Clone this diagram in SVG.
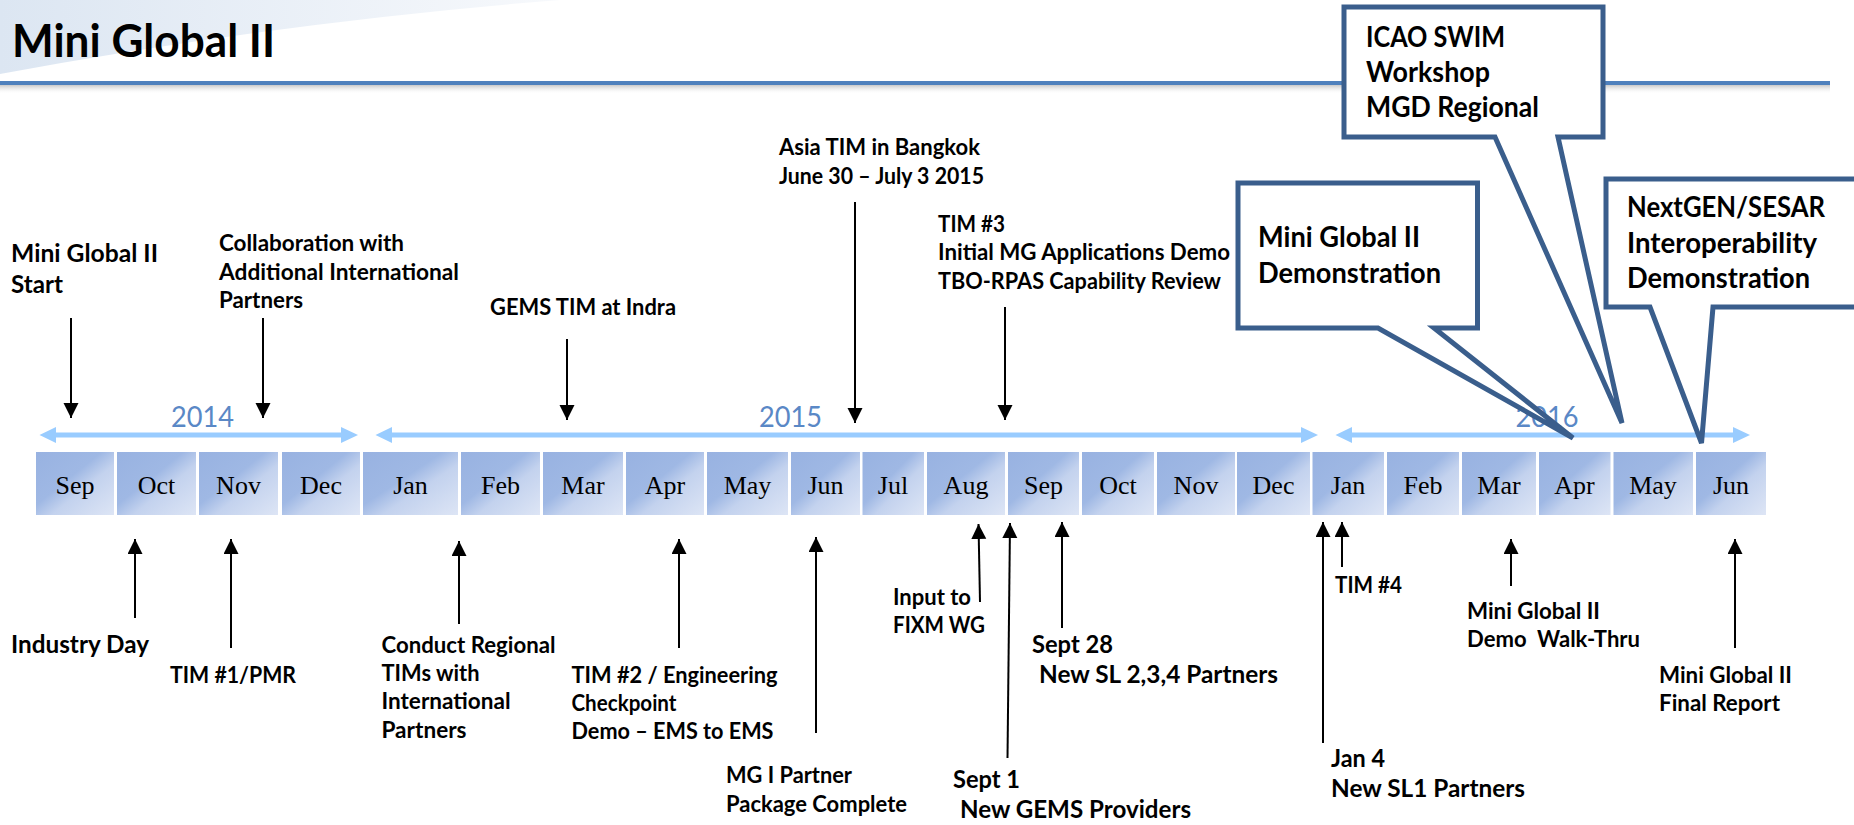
<svg xmlns="http://www.w3.org/2000/svg" width="1854" height="825" viewBox="0 0 1854 825">
<defs>
<style>
.lbl{font-family:Lato,"Liberation Sans",sans-serif;font-weight:bold;fill:#000;}
.s24{font-size:23px;}
.s26{font-size:25px;}
.s29{font-size:28px;}
.mon{font-family:"Liberation Serif","DejaVu Serif",serif;font-size:26px;fill:#000;text-anchor:middle;}
.yr{font-family:Lato,"Liberation Sans",sans-serif;font-size:29px;fill:#5A88C6;text-anchor:middle;}
.cell{fill:url(#cellGrad);}
.conn{stroke:#000;stroke-width:2;fill:none;marker-end:url(#ah);}
.yline{stroke:#99CCFF;stroke-width:5;fill:none;}
.yhead{fill:#99CCFF;}
.callout{fill:#fff;stroke:#3A5E8C;stroke-width:5;stroke-linejoin:miter;stroke-miterlimit:4;}
</style>
<linearGradient id="cellGrad" x1="0" y1="0" x2="1" y2="1">
<stop offset="0" stop-color="#98B2E1"/>
<stop offset="0.42" stop-color="#9FB8E4"/>
<stop offset="0.6" stop-color="#C3D2EE"/>
<stop offset="1" stop-color="#DDE5F5"/>
</linearGradient>
<linearGradient id="swoosh" x1="0" y1="0" x2="1" y2="0">
<stop offset="0" stop-color="#DCE6F2"/>
<stop offset="1" stop-color="#F7F9FC"/>
</linearGradient>
<linearGradient id="shadow" x1="0" y1="0" x2="0" y2="1">
<stop offset="0" stop-color="#BBBBBB" stop-opacity="0.8"/>
<stop offset="1" stop-color="#FFFFFF" stop-opacity="0"/>
</linearGradient>
<marker id="ah" markerUnits="userSpaceOnUse" markerWidth="16" markerHeight="16" refX="15" refY="7.5" orient="auto">
<path d="M0,0 L15,7.5 L0,15 Z" fill="#000"/>
</marker>
</defs>

<rect width="1854" height="825" fill="#fff"/>

<g id="header">
<path d="M0,0 L560,0 Q280,22 0,74 Z" fill="url(#swoosh)"/>
<rect x="0" y="85" width="1830" height="9" fill="url(#shadow)"/>
<line x1="0" y1="83" x2="1830" y2="83" stroke="#4F81BD" stroke-width="4"/>
<text class="lbl" x="12" y="57" font-size="45" textLength="263" lengthAdjust="spacingAndGlyphs">Mini Global II</text>
</g>

<g id="years">
<line class="yline" x1="52" y1="435" x2="345" y2="435"/>
<polygon class="yhead" points="39.5,435 56,427 56,443"/>
<polygon class="yhead" points="358,435 341,427 341,443"/>
<line class="yline" x1="388" y1="435" x2="1305" y2="435"/>
<polygon class="yhead" points="375.5,435 392,427 392,443"/>
<polygon class="yhead" points="1318,435 1301,427 1301,443"/>
<line class="yline" x1="1348" y1="435" x2="1737" y2="435"/>
<polygon class="yhead" points="1335.5,435 1352,427 1352,443"/>
<polygon class="yhead" points="1750,435 1733,427 1733,443"/>
<text class="yr" x="202.5" y="427" textLength="63" lengthAdjust="spacingAndGlyphs">2014</text>
<text class="yr" x="790.5" y="427" textLength="63" lengthAdjust="spacingAndGlyphs">2015</text>
<text class="yr" x="1547" y="427" textLength="63" lengthAdjust="spacingAndGlyphs">2016</text>
</g>

<g id="months">
<g id="m-2014-sep"><rect class="cell" x="36" y="452" width="78" height="63"/><text class="mon" x="75" y="494">Sep</text></g>
<g id="m-2014-oct"><rect class="cell" x="117" y="452" width="79" height="63"/><text class="mon" x="156.5" y="494">Oct</text></g>
<g id="m-2014-nov"><rect class="cell" x="199" y="452" width="79" height="63"/><text class="mon" x="238.5" y="494">Nov</text></g>
<g id="m-2014-dec"><rect class="cell" x="282" y="452" width="78" height="63"/><text class="mon" x="321" y="494">Dec</text></g>
<g id="m-2015-jan"><rect class="cell" x="363" y="452" width="95" height="63"/><text class="mon" x="410.5" y="494">Jan</text></g>
<g id="m-2015-feb"><rect class="cell" x="461" y="452" width="79" height="63"/><text class="mon" x="500.5" y="494">Feb</text></g>
<g id="m-2015-mar"><rect class="cell" x="543" y="452" width="80" height="63"/><text class="mon" x="583" y="494">Mar</text></g>
<g id="m-2015-apr"><rect class="cell" x="626" y="452" width="78" height="63"/><text class="mon" x="665" y="494">Apr</text></g>
<g id="m-2015-may"><rect class="cell" x="707" y="452" width="81" height="63"/><text class="mon" x="747.5" y="494">May</text></g>
<g id="m-2015-jun"><rect class="cell" x="791" y="452" width="69" height="63"/><text class="mon" x="825.5" y="494">Jun</text></g>
<g id="m-2015-jul"><rect class="cell" x="862.5" y="452" width="61.5" height="63"/><text class="mon" x="893" y="494">Jul</text></g>
<g id="m-2015-aug"><rect class="cell" x="927" y="452" width="78" height="63"/><text class="mon" x="966" y="494">Aug</text></g>
<g id="m-2015-sep"><rect class="cell" x="1008" y="452" width="71" height="63"/><text class="mon" x="1043.5" y="494">Sep</text></g>
<g id="m-2015-oct"><rect class="cell" x="1082" y="452" width="72" height="63"/><text class="mon" x="1118" y="494">Oct</text></g>
<g id="m-2015-nov"><rect class="cell" x="1157" y="452" width="78" height="63"/><text class="mon" x="1196" y="494">Nov</text></g>
<g id="m-2015-dec"><rect class="cell" x="1237" y="452" width="73" height="63"/><text class="mon" x="1273.5" y="494">Dec</text></g>
<g id="m-2016-jan"><rect class="cell" x="1312.5" y="452" width="71.5" height="63"/><text class="mon" x="1348" y="494">Jan</text></g>
<g id="m-2016-feb"><rect class="cell" x="1387" y="452" width="72" height="63"/><text class="mon" x="1423" y="494">Feb</text></g>
<g id="m-2016-mar"><rect class="cell" x="1462" y="452" width="74" height="63"/><text class="mon" x="1499" y="494">Mar</text></g>
<g id="m-2016-apr"><rect class="cell" x="1539" y="452" width="71.5" height="63"/><text class="mon" x="1574.5" y="494">Apr</text></g>
<g id="m-2016-may"><rect class="cell" x="1613.5" y="452" width="79.5" height="63"/><text class="mon" x="1653" y="494">May</text></g>
<g id="m-2016-jun"><rect class="cell" x="1696" y="452" width="70" height="63"/><text class="mon" x="1731" y="494">Jun</text></g>
</g>

<g id="connectors">
<line class="conn" x1="71" y1="318" x2="71" y2="418"/>
<line class="conn" x1="263" y1="318" x2="263" y2="418"/>
<line class="conn" x1="567" y1="339" x2="567" y2="420"/>
<line class="conn" x1="855" y1="202" x2="855" y2="423"/>
<line class="conn" x1="1005" y1="307" x2="1005" y2="420"/>
<line class="conn" x1="135" y1="618" x2="135" y2="539"/>
<line class="conn" x1="231" y1="648" x2="231" y2="539"/>
<line class="conn" x1="459" y1="624" x2="459" y2="541"/>
<line class="conn" x1="679" y1="648" x2="679" y2="539"/>
<line class="conn" x1="816" y1="733" x2="816" y2="537"/>
<line class="conn" x1="980" y1="602" x2="978.5" y2="524"/>
<line class="conn" x1="1007.5" y1="758" x2="1010" y2="523"/>
<line class="conn" x1="1062" y1="628" x2="1062" y2="522"/>
<line class="conn" x1="1323" y1="743" x2="1323" y2="522"/>
<line class="conn" x1="1342" y1="567" x2="1342" y2="522"/>
<line class="conn" x1="1511" y1="586" x2="1511" y2="539"/>
<line class="conn" x1="1735" y1="648" x2="1735" y2="539"/>
</g>

<g id="n-start"><text class="lbl s26" x="11" y="262" textLength="147" lengthAdjust="spacingAndGlyphs">Mini Global II</text><text class="lbl s26" x="11" y="293" textLength="52" lengthAdjust="spacingAndGlyphs">Start</text></g>
<g id="n-collab"><text class="lbl s24" x="219" y="251" textLength="185" lengthAdjust="spacingAndGlyphs">Collaboration with</text><text class="lbl s24" x="219" y="280" textLength="240" lengthAdjust="spacingAndGlyphs">Additional International</text><text class="lbl s24" x="219" y="308" textLength="84" lengthAdjust="spacingAndGlyphs">Partners</text></g>
<g id="n-gems"><text class="lbl s24" x="490" y="315" textLength="186" lengthAdjust="spacingAndGlyphs">GEMS TIM at Indra</text></g>
<g id="n-asia"><text class="lbl s24" x="779" y="155" textLength="201" lengthAdjust="spacingAndGlyphs">Asia TIM in Bangkok</text><text class="lbl s24" x="779" y="184" textLength="205" lengthAdjust="spacingAndGlyphs">June 30 – July 3 2015</text></g>
<g id="n-tim3"><text class="lbl s24" x="938" y="232" textLength="67" lengthAdjust="spacingAndGlyphs">TIM #3</text><text class="lbl s24" x="938" y="260" textLength="292" lengthAdjust="spacingAndGlyphs">Initial MG Applications Demo</text><text class="lbl s24" x="938" y="289" textLength="283" lengthAdjust="spacingAndGlyphs">TBO-RPAS Capability Review</text></g>

<g id="n-industry"><text class="lbl s26" x="11" y="653" textLength="138" lengthAdjust="spacingAndGlyphs">Industry Day</text></g>
<g id="n-tim1"><text class="lbl s24" x="170" y="683" textLength="126" lengthAdjust="spacingAndGlyphs">TIM #1/PMR</text></g>
<g id="n-conduct"><text class="lbl s24" x="381.5" y="653" textLength="174" lengthAdjust="spacingAndGlyphs">Conduct Regional</text><text class="lbl s24" x="381.5" y="681" textLength="98" lengthAdjust="spacingAndGlyphs">TIMs with</text><text class="lbl s24" x="381.5" y="709" textLength="129" lengthAdjust="spacingAndGlyphs">International</text><text class="lbl s24" x="381.5" y="738" textLength="85" lengthAdjust="spacingAndGlyphs">Partners</text></g>
<g id="n-tim2"><text class="lbl s24" x="571.5" y="683" textLength="206" lengthAdjust="spacingAndGlyphs">TIM #2 / Engineering</text><text class="lbl s24" x="571.5" y="711" textLength="105" lengthAdjust="spacingAndGlyphs">Checkpoint</text><text class="lbl s24" x="571.5" y="739" textLength="202" lengthAdjust="spacingAndGlyphs">Demo – EMS to EMS</text></g>
<g id="n-mgi"><text class="lbl s24" x="726" y="783" textLength="126" lengthAdjust="spacingAndGlyphs">MG I Partner</text><text class="lbl s24" x="726" y="812" textLength="181" lengthAdjust="spacingAndGlyphs">Package Complete</text></g>
<g id="n-fixm"><text class="lbl s24" x="893" y="605" textLength="78" lengthAdjust="spacingAndGlyphs">Input to</text><text class="lbl s24" x="893" y="633" textLength="92" lengthAdjust="spacingAndGlyphs">FIXM WG</text></g>
<g id="n-sept1"><text class="lbl s26" x="953" y="788" textLength="67" lengthAdjust="spacingAndGlyphs">Sept 1</text><text class="lbl s26" x="960" y="818" textLength="231" lengthAdjust="spacingAndGlyphs">New GEMS Providers</text></g>
<g id="n-sept28"><text class="lbl s26" x="1032" y="653" textLength="81" lengthAdjust="spacingAndGlyphs">Sept 28</text><text class="lbl s26" x="1039" y="683" textLength="239" lengthAdjust="spacingAndGlyphs">New SL 2,3,4 Partners</text></g>
<g id="n-jan4"><text class="lbl s26" x="1331" y="767" textLength="54" lengthAdjust="spacingAndGlyphs">Jan 4</text><text class="lbl s26" x="1331" y="797" textLength="194" lengthAdjust="spacingAndGlyphs">New SL1 Partners</text></g>
<g id="n-tim4"><text class="lbl s24" x="1335" y="593" textLength="67" lengthAdjust="spacingAndGlyphs">TIM #4</text></g>
<g id="n-walk"><text class="lbl s24" x="1467" y="619" textLength="133" lengthAdjust="spacingAndGlyphs">Mini Global II</text><text class="lbl s24" x="1467" y="647" xml:space="preserve" textLength="173" lengthAdjust="spacingAndGlyphs">Demo  Walk-Thru</text></g>
<g id="n-final"><text class="lbl s24" x="1659" y="683" textLength="133" lengthAdjust="spacingAndGlyphs">Mini Global II</text><text class="lbl s24" x="1659" y="711" textLength="121" lengthAdjust="spacingAndGlyphs">Final Report</text></g>

<g id="c-icao">
<path class="callout" d="M1344,7 H1603 V137 H1558 L1622,423 L1495,137 H1344 Z"/>
<text class="lbl s29" x="1366" y="47" textLength="139" lengthAdjust="spacingAndGlyphs">ICAO SWIM</text>
<text class="lbl s29" x="1366" y="82" textLength="124" lengthAdjust="spacingAndGlyphs">Workshop</text>
<text class="lbl s29" x="1366" y="117" textLength="173" lengthAdjust="spacingAndGlyphs">MGD Regional</text>
</g>
<g id="c-mgd">
<path class="callout" d="M1238,183 H1477.5 V328 H1434 L1573,438 L1378,328 H1238 Z"/>
<text class="lbl s29" x="1258" y="247" textLength="162" lengthAdjust="spacingAndGlyphs">Mini Global II</text>
<text class="lbl s29" x="1258" y="283" textLength="183" lengthAdjust="spacingAndGlyphs">Demonstration</text>
</g>
<g id="c-nextgen">
<path class="callout" d="M1606,179 H1870 V307 H1713 L1701.5,443 L1650,307 H1606 Z"/>
<text class="lbl s29" x="1627" y="217" textLength="198" lengthAdjust="spacingAndGlyphs">NextGEN/SESAR</text>
<text class="lbl s29" x="1627" y="253" textLength="190" lengthAdjust="spacingAndGlyphs">Interoperability</text>
<text class="lbl s29" x="1627" y="288" textLength="183" lengthAdjust="spacingAndGlyphs">Demonstration</text>
</g>
</svg>
